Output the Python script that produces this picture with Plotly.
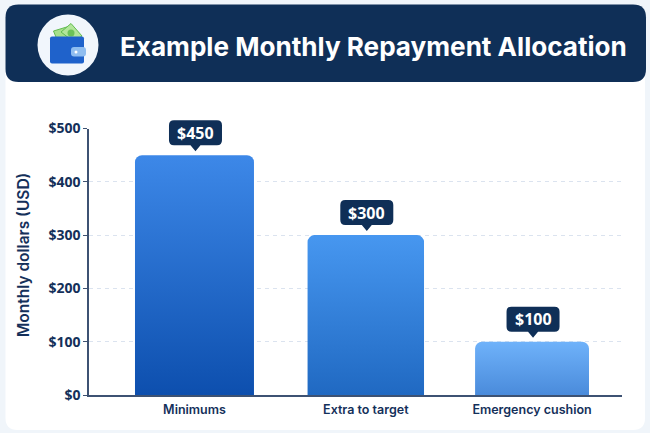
import plotly.graph_objects as go

W = 650
H = 433

categories = ["Minimums", "Extra to target", "Emergency cushion"]
amounts = [450, 300, 100]
bar_widths = [0.705, 0.69, 0.675]
top_colors = ["#3d88e8", "#4797f0", "#6fb2fa"]
bottom_colors = ["#0d4fae", "#2069c2", "#4a8bdb"]
y_ticks = [0, 100, 200, 300, 400, 500]
y_labels = ["$0", "$100", "$200", "$300", "$400", "$500"]

X_RANGE = [-0.625, 2.533]
Y_RANGE = [0, 500]

NAVY = "#0f2f57"
TEXT = "#14305a"
FONT = "Inter, 'Noto Sans', sans-serif"
NUM_FONT = "'Noto Sans', sans-serif"


def px(x):
    return x / W


def py(y):
    return 1 - y / H


def rounded(x0, y0, x1, y1, r):
    # all args in page pixels
    pts = [
        f"M{px(x0 + r)},{py(y0)}",
        f"L{px(x1 - r)},{py(y0)}",
        f"Q{px(x1)},{py(y0)} {px(x1)},{py(y0 + r)}",
        f"L{px(x1)},{py(y1 - r)}",
        f"Q{px(x1)},{py(y1)} {px(x1 - r)},{py(y1)}",
        f"L{px(x0 + r)},{py(y1)}",
        f"Q{px(x0)},{py(y1)} {px(x0)},{py(y1 - r)}",
        f"L{px(x0)},{py(y0 + r)}",
        f"Q{px(x0)},{py(y0)} {px(x0 + r)},{py(y0)}",
        "Z",
    ]
    return " ".join(pts)


def polygon(points):
    return "M" + " L".join(f"{px(x)},{py(y)}" for x, y in points) + " Z"


def page_shape(path, fill, layer="below", line=None):
    return dict(
        type="path", xref="paper", yref="paper", path=path,
        fillcolor=fill, layer=layer,
        line=dict(color=line or fill, width=1 if line else 0),
    )


def page_circle(cx, cy, r, fill):
    return dict(
        type="circle", xref="paper", yref="paper",
        x0=px(cx - r), x1=px(cx + r), y0=py(cy + r), y1=py(cy - r),
        fillcolor=fill, line_width=0, layer="below",
    )


def callout(x, value):
    # rounded label box with a small pointer, anchored on the top of the bar.
    # domain refs because axis refs get clipped at the top of the plot area
    left, right = -26.5, 26.5
    return dict(
        type="path", xref="x domain", yref="y domain",
        xsizemode="pixel", ysizemode="pixel",
        xanchor=(x - X_RANGE[0]) / (X_RANGE[1] - X_RANGE[0]),
        yanchor=(value - Y_RANGE[0]) / (Y_RANGE[1] - Y_RANGE[0]),
        path=(
            f"M{left + 6},35 L{right - 4},35 Q{right + 1},35 {right + 1},30 "
            f"L{right + 1},15 Q{right + 1},10 {right - 4},10 "
            f"L6,10 L1,4 L-4,10 L{left + 6},10 Q{left + 1},10 {left + 1},15 "
            f"L{left + 1},30 Q{left + 1},35 {left + 6},35 Z"
        ),
        fillcolor=NAVY, line_width=0, layer="above",
    )


x_pos = [0, 1.015, 2]

fig = go.Figure()
fig.add_trace(
    go.Bar(
        x=x_pos,
        y=amounts,
        width=bar_widths,
        marker=dict(color=top_colors, line_width=0),
        hoverinfo="skip",
    )
)

shapes = [
    page_shape(rounded(5.5, 30, 645, 430, 12), "#ffffff"),
    page_shape(rounded(5.5, 4.5, 646, 82, 13), NAVY),
    # wallet icon
    page_circle(68, 45, 30.5, "#f1f6fc"),
    page_shape(polygon([(53.5, 31), (70, 26), (76, 40), (58, 42)]), "#a6e08c", line="#62bb52"),
    page_shape(polygon([(61, 32), (71, 23.5), (82, 36), (74, 42)]), "#b2e69a", line="#62bb52"),
    page_circle(71, 33, 3.5, "#6cc25a"),
    page_shape(rounded(50, 36.5, 84, 63.5, 2), "#1f62cb"),
    page_shape(rounded(71, 47, 86, 56.5, 3), "#8fbdf0"),
    page_circle(76, 52, 1.5, "#ffffff"),
]
shapes += [callout(x, v) for x, v in zip(x_pos, amounts)]

annotations = [
    dict(
        x=px(118), y=py(46), xref="paper", yref="paper",
        xanchor="left", yanchor="middle", showarrow=False,
        text="Example Monthly Repayment Allocation",
        font=dict(family=FONT, size=26.1, color="#ffffff", weight=700),
    ),
    dict(
        x=px(23.5), y=py(255.5), xref="paper", yref="paper",
        xanchor="center", yanchor="middle", showarrow=False, textangle=-90,
        text="Monthly dollars (USD)",
        font=dict(family=FONT, size=15.5, color=TEXT, weight=600),
    ),
]
for x, v in zip(x_pos, amounts):
    annotations.append(
        dict(
            x=x, y=v, xref="x", yref="y", xshift=1, yshift=22.5, showarrow=False,
            text=f"${v}",
            font=dict(family=NUM_FONT, size=16, color="#ffffff", weight=700),
        )
    )

fig.update_layout(
    width=W,
    height=H,
    margin=dict(l=0, r=0, t=0, b=0),
    paper_bgcolor="#f0f5fa",
    plot_bgcolor="rgba(0,0,0,0)",
    showlegend=False,
    barcornerradius=7,
    shapes=shapes,
    annotations=annotations,
    font=dict(family=FONT, color=NAVY),
)
fig.update_xaxes(
    automargin=False,
    domain=[px(89), px(622)],
    range=X_RANGE,
    tickvals=x_pos,
    ticktext=categories,
    tickfont=dict(size=12.5, color=TEXT, weight=600),
    showline=True,
    linecolor="#3d5273",
    linewidth=1.5,
    showgrid=False,
    zeroline=False,
    ticks="",
    ticklabelstandoff=2,
)
fig.update_yaxes(
    automargin=False,
    domain=[py(395), py(128.5)],
    range=Y_RANGE,
    tickvals=y_ticks,
    ticktext=y_labels,
    tickfont=dict(family=NUM_FONT, size=14, color=TEXT, weight=700),
    showline=True,
    linecolor="#3d5273",
    linewidth=1.5,
    ticks="outside",
    ticklen=4,
    tickcolor="#3d5273",
    griddash="4px,4px",
    gridcolor="#dbe3ef",
    gridwidth=1,
    zeroline=False,
)

# plotly bars have no gradient fill, so swap one in once the svg exists
post_script = """
document.body.style.margin = '0';
var gd = document.getElementById('{plot_id}');
var svg = gd.querySelector('svg.main-svg');
var defs = svg.querySelector('defs');
var tops = %s, bottoms = %s;
gd.querySelectorAll('.bars .point path').forEach(function (p, i) {
  var g = document.createElementNS('http://www.w3.org/2000/svg', 'linearGradient');
  g.id = 'bargrad' + i;
  g.setAttribute('x1', '0'); g.setAttribute('y1', '0');
  g.setAttribute('x2', '0'); g.setAttribute('y2', '1');
  [[0, tops[i]], [1, bottoms[i]]].forEach(function (s) {
    var stop = document.createElementNS('http://www.w3.org/2000/svg', 'stop');
    stop.setAttribute('offset', s[0]);
    stop.setAttribute('stop-color', s[1]);
    g.appendChild(stop);
  });
  defs.appendChild(g);
  p.style.fill = 'url(#bargrad' + i + ')';
});
""" % (top_colors, bottom_colors)

fig.write_html("out.html", post_script=post_script, config=dict(displayModeBar=False))
